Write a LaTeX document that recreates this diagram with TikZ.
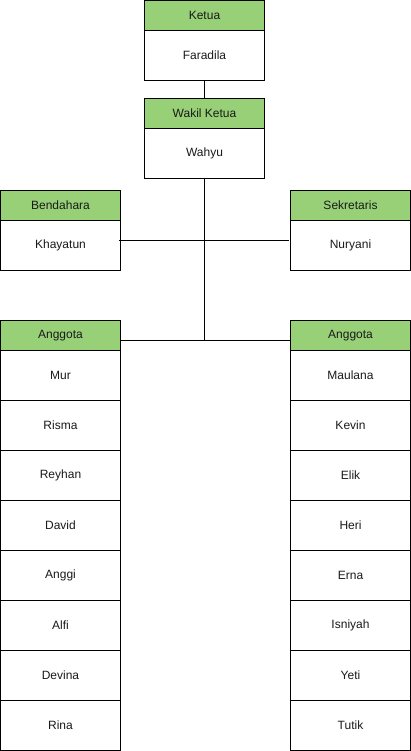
\documentclass[tikz,border=0pt]{standalone}
\usepackage{fontspec}
\setmainfont{Liberation Sans}
\definecolor{hdrgreen}{HTML}{97D077}
\definecolor{txt}{HTML}{1A1A1A}
\begin{document}
\begin{tikzpicture}[x=1pt,y=-1pt,line width=1pt,
  base/.style={draw=black,anchor=north west,minimum width=120pt,inner sep=0pt,outer sep=0pt,font=\fontsize{12}{14}\selectfont,text=txt},
  hdr/.style={base,fill=hdrgreen,minimum height=30pt},
  cell/.style={base,fill=white,minimum height=50pt},
  link/.style={draw=black,line width=1pt}]
\useasboundingbox (0,0) rectangle (411,751);
% Top
\node[hdr] (ketuah) at (144.5,0.5) {Ketua};
\node[cell] (ketua) at (ketuah.south west) {Faradila};
\node[hdr] (wakilh) at (144.5,98.5) {Wakil Ketua};
\node[cell] (wakil) at (wakilh.south west) {Wahyu};
% Bendahara / Sekretaris
\node[hdr] (bendh) at (0.5,190.5) {Bendahara};
\node[cell] (bend) at (bendh.south west) {Khayatun};
\node[hdr] (sekh) at (290.5,190.5) {Sekretaris};
\node[cell] (sek) at (sekh.south west) {Nuryani};
% Anggota left
\node[hdr] (angl) at (0.5,320.5) {Anggota};
\node[cell] (l1) at (angl.south west) {Mur};
\node[cell] (l2) at (l1.south west) {Risma};
\node[cell] (l3) at (l2.south west) {Reyhan};
\node[cell] (l4) at (l3.south west) {David};
\node[cell] (l5) at (l4.south west) {Anggi};
\node[cell] (l6) at (l5.south west) {Alfi};
\node[cell] (l7) at (l6.south west) {Devina};
\node[cell] (l8) at (l7.south west) {Rina};
% Anggota right
\node[hdr] (angr) at (290.5,320.5) {Anggota};
\node[cell] (r1) at (angr.south west) {Maulana};
\node[cell] (r2) at (r1.south west) {Kevin};
\node[cell] (r3) at (r2.south west) {Elik};
\node[cell] (r4) at (r3.south west) {Heri};
\node[cell] (r5) at (r4.south west) {Erna};
\node[cell] (r6) at (r5.south west) {Isniyah};
\node[cell] (r7) at (r6.south west) {Yeti};
\node[cell] (r8) at (r7.south west) {Tutik};
% connectors
\coordinate (junc) at (204.5,340.5);
\draw[link] (ketua.south) -- (wakilh.north);
\draw[link] (wakil.south) -- (junc);
\draw[link] ([shift={(-2,20)}]bend.north east) -- ([shift={(-2,20)}]sek.north west);
\draw[link] ([shift={(0,20)}]angl.north east) -- ([shift={(0,20)}]angr.north west);
\end{tikzpicture}
\end{document}
